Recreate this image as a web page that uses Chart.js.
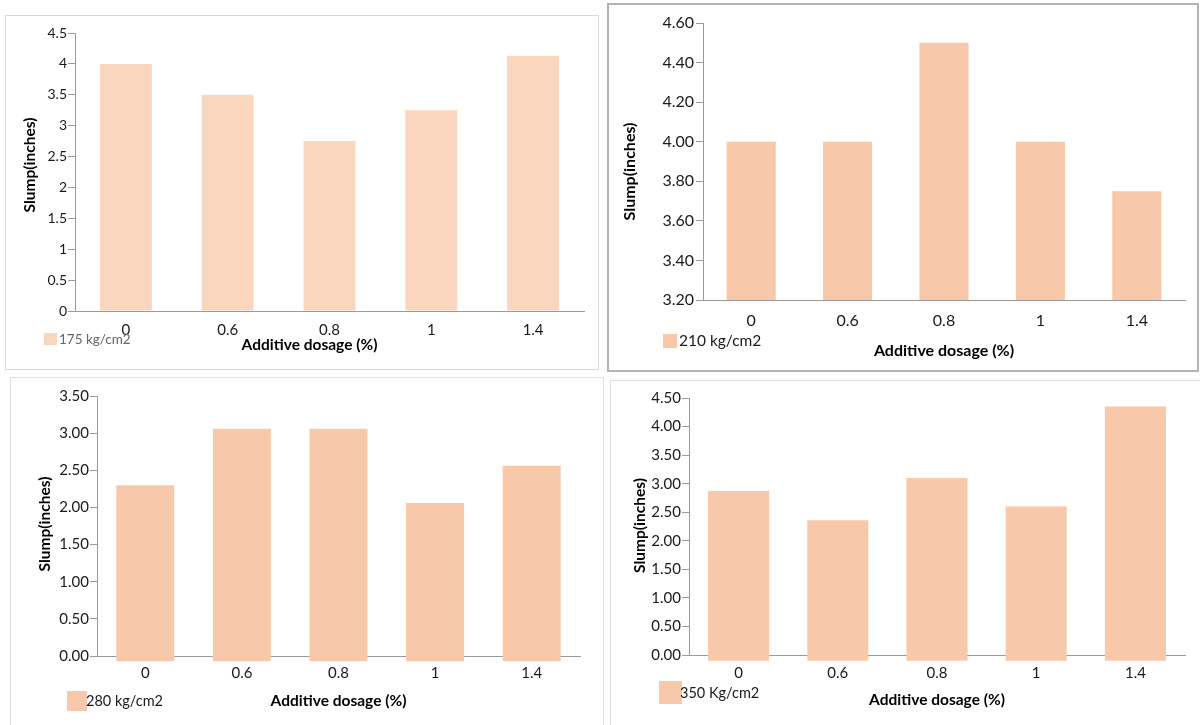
<!DOCTYPE html>
<html>
<head>
<meta charset="utf-8">
<script src="https://cdn.jsdelivr.net/npm/chart.js@4.4.1/dist/chart.umd.min.js"></script>
<style>
  html, body { margin: 0; padding: 0; background: #fff; }
  body { width: 1200px; height: 725px; position: relative; overflow: hidden; font-family: Lato, "Open Sans", sans-serif; }
  .panel { position: absolute; }
  .panel canvas { position: absolute; left: 0; top: 0; }
  .frame { position: absolute; left: 0; top: 0; right: 0; bottom: 0; box-sizing: border-box; pointer-events: none; }
  .legend { position: absolute; white-space: nowrap; }
  .legend .sw { position: absolute; }
  .legend .tx { position: absolute; line-height: 1; transform: translateY(-50%); }
</style>
</head>
<body>
<script>
// Additive dosages on the category axis
const dosageLabels = ['0', '0.6', '0.8', '1', '1.4'];

// Slump (inches) for each concrete grade
const slump175 = [4.00, 3.50, 2.75, 3.25, 4.13];
const slump210 = [4.00, 4.00, 4.50, 4.00, 3.75];
const slump280 = [2.30, 3.06, 3.06, 2.06, 2.56];
const slump350 = [2.87, 2.36, 3.10, 2.60, 4.35];

// Series names shown in each legend
const gradeNames = ['175 kg/cm2', '210 kg/cm2', '280 kg/cm2', '350 Kg/cm2'];

// Value-axis ranges and tick steps per chart
const yMins = [0, 3.2, 0, 0];
const yMaxs = [4.5, 4.6, 3.5, 4.5];
const ySteps = [0.5, 0.2, 0.5, 0.5];

const xTitle = 'Additive dosage (%)';
const yTitle = 'Slump(inches)';

// Layout of the four panels (page pixels)
const layouts = [
  { frame: [5, 15, 594, 355], border: '1px solid #d9d9d9', area: [75, 33, 584, 311],
    yTitleX: 30, xTitleY: 345, xTickY: 330, tickSize: 14, xTickSize: 15, titleSize: 15.5,
    xTitleDX: -20, yTitleDY: -7,
    barPct: 0.51, color: '#F9D6BD', base: null, decimals: false, yPad: 1,
    legend: { sw: [44, 333, 13, 12], tx: [59, 340], size: 13.5, color: '#666' } },
  { frame: [607, 3, 592, 369], border: '2px solid #b4b4b4', area: [703, 23, 1185, 300],
    yTitleX: 630, xTitleY: 351, xTickY: 321, tickSize: 16, xTickSize: 16, titleSize: 16,
    xTitleDX: 0, yTitleDY: 10,
    barPct: 0.51, color: '#F7C8AA', base: null, decimals: true, yPad: 2,
    legend: { sw: [663, 334, 14, 14], tx: [679, 341], size: 15.5, color: '#1a1a1a' } },
  { frame: [10, 377, 594, 360], border: '1px solid #e0e0e0', area: [97, 396, 580, 656],
    yTitleX: 45, xTitleY: 701, xTickY: 673, tickSize: 15, xTickSize: 15, titleSize: 15.5,
    xTitleDX: 0, yTitleDY: -2,
    barPct: 0.60, color: '#F7C8AA', base: -0.07, decimals: true, yPad: 1,
    legend: { sw: [67, 691, 20, 20], tx: [86, 701], size: 14.5, color: '#1a1a1a' } },
  { frame: [610, 380, 600, 360], border: '1px solid #e0e0e0', area: [689, 398, 1185, 655],
    yTitleX: 640, xTitleY: 700, xTickY: 673, tickSize: 15, xTickSize: 15, titleSize: 15.5,
    xTitleDX: 0, yTitleDY: -1,
    barPct: 0.615, color: '#F7C8AA', base: -0.1, decimals: true, yPad: 1,
    legend: { sw: [659, 681, 23, 23], tx: [680, 693], size: 14.5, color: '#1a1a1a' } }
];

const seriesList = [slump175, slump210, slump280, slump350];

Chart.defaults.font.family = 'Lato, "Open Sans", sans-serif';

// Draw an axis title shifted along its axis by (dx, dy) pixels
function shiftTitle(scale, dx, dy) {
  if (scale._shiftPatched) return;
  scale._shiftPatched = true;
  const baseDraw = Object.getPrototypeOf(scale).drawTitle;
  scale.drawTitle = function () {
    const l = this.left, r = this.right, t = this.top, b = this.bottom;
    this.left = l + dx; this.right = r + dx; this.top = t + dy; this.bottom = b + dy;
    baseDraw.call(this);
    this.left = l; this.right = r; this.top = t; this.bottom = b;
  };
}

layouts.forEach((L, i) => {
  const [fx, fy, fw, fh] = L.frame;
  const [al, at, ar, ab] = L.area;

  const panel = document.createElement('div');
  panel.className = 'panel';
  Object.assign(panel.style, { left: fx + 'px', top: fy + 'px', width: fw + 'px', height: fh + 'px' });
  const canvas = document.createElement('canvas');
  canvas.width = fw; canvas.height = fh;
  canvas.style.width = fw + 'px'; canvas.style.height = fh + 'px';
  panel.appendChild(canvas);
  const frame = document.createElement('div');
  frame.className = 'frame';
  frame.style.border = L.border;
  panel.appendChild(frame);
  document.body.appendChild(panel);

  // axis box sizes so the plot area lands where it should
  const titleLH = L.titleSize * 1.2;
  const padLeft = (L.yTitleX - fx) - titleLH / 2;
  const yWidth = (al - fx) - padLeft;
  const padTop = at - fy;
  const padRight = (fx + fw) - ar;
  const padBottom = (fy + fh) - L.xTitleY - titleLH / 2;
  const xHeight = (fy + fh - padBottom) - ab;
  const xTickPad = L.xTickY - ab - (L.xTickSize * 1.2) / 2;

  const dataset = {
    label: gradeNames[i],
    data: seriesList[i],
    backgroundColor: L.color,
    borderWidth: 0,
    barPercentage: L.barPct,
    categoryPercentage: 1
  };
  if (L.base !== null) { dataset.base = L.base; dataset.clip = false; }

  new Chart(canvas, {
    type: 'bar',
    data: { labels: dosageLabels, datasets: [dataset] },
    options: {
      responsive: false,
      animation: false,
      devicePixelRatio: 1,
      layout: { padding: { left: padLeft, top: padTop, right: padRight, bottom: padBottom } },
      plugins: { legend: { display: false }, tooltip: { enabled: false } },
      scales: {
        x: {
          grid: { display: false, drawTicks: false },
          border: { display: true, color: '#9a9a9a', width: 1 },
          ticks: { color: '#1a1a1a', font: { size: L.xTickSize }, padding: xTickPad, maxRotation: 0 },
          title: { display: true, text: xTitle, color: '#000', padding: 0,
                   font: { size: L.titleSize, weight: 'bold' } },
          afterFit: s => { s.height = xHeight; },
          afterUpdate: s => shiftTitle(s, L.xTitleDX, 0)
        },
        y: {
          min: yMins[i], max: yMaxs[i],
          grid: { drawOnChartArea: false, drawTicks: true, tickLength: 7, color: '#9a9a9a' },
          border: { display: true, color: '#9a9a9a', width: 1 },
          ticks: {
            stepSize: ySteps[i], color: '#1a1a1a', padding: L.yPad,
            font: { size: L.tickSize },
            callback: v => L.decimals ? Number(v).toFixed(2) : String(Math.round(v * 100) / 100)
          },
          title: { display: true, text: yTitle, color: '#000', padding: 0,
                   font: { size: L.titleSize, weight: 'bold' } },
          afterFit: s => { s.width = yWidth; },
          afterUpdate: s => shiftTitle(s, 0, L.yTitleDY)
        }
      }
    }
  });

  // legend: colour swatch with the series name
  const lg = document.createElement('div');
  lg.className = 'legend';
  const sw = document.createElement('span');
  sw.className = 'sw';
  const [sx, sy, sw_, sh] = L.legend.sw;
  Object.assign(sw.style, { left: sx + 'px', top: sy + 'px', width: sw_ + 'px', height: sh + 'px', background: L.color });
  const tx = document.createElement('span');
  tx.className = 'tx';
  tx.textContent = gradeNames[i];
  Object.assign(tx.style, { left: L.legend.tx[0] + 'px', top: L.legend.tx[1] + 'px',
    fontSize: L.legend.size + 'px', color: L.legend.color });
  lg.appendChild(sw);
  lg.appendChild(tx);
  document.body.appendChild(lg);
});
</script>
</body>
</html>
